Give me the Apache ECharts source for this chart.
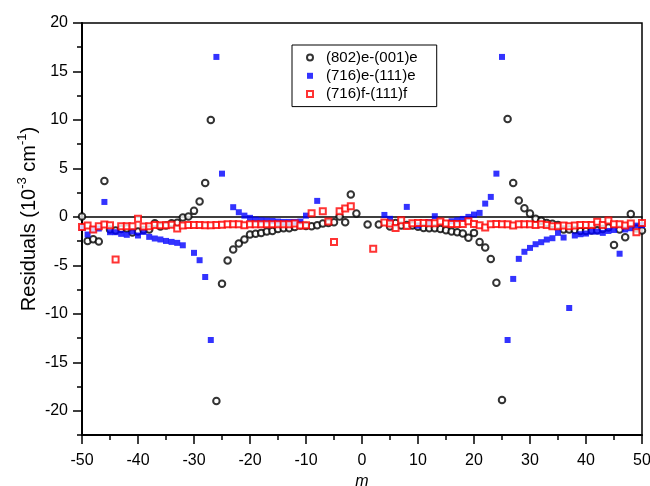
<!DOCTYPE html>
<html>
<head>
<meta charset="utf-8">
<script src="https://cdn.jsdelivr.net/npm/echarts@6/dist/echarts.min.js"></script>
<style>
  html, body { margin: 0; padding: 0; background: #fff; }
  #chart { width: 650px; height: 486px; }
</style>
</head>
<body>
<div id="chart"></div>
<script>
const seriesNames = ['(802)e-(001)e', '(716)e-(111)e', '(716)f-(111)f'];

// (802)e-(001)e, open circles
const mBlack = [-50, -49, -48, -47, -46, -45, -44, -43, -42, -41, -40, -39, -38, -37, -36, -35, -34, -33, -32, -31,
  -30, -29, -28, -27, -26, -25, -24, -23, -22, -21, -20, -19, -18, -17, -16, -15, -14, -13, -12, -11,
  -10, -9, -8, -7, -6, -5, -4, -3, -2, -1, 1, 3, 5, 6, 7, 8, 9, 10, 11, 12,
  13, 14, 15, 16, 17, 18, 19, 20, 21, 22, 23, 24, 25, 26, 27, 28, 29, 30, 31, 32,
  33, 34, 35, 36, 37, 38, 39, 40, 41, 42, 43, 44, 45, 46, 47, 48, 49, 50];
const vBlack = [0.05, -2.5, -2.3, -2.55, 3.7, -1.3, -1.4, -1.25, -1.2, -1.6, -1.5, -1.35, -1.3, -0.65, -1.0, -0.9, -0.65, -0.6, -0.07, 0.05,
  0.62, 1.58, 3.5, 10.0, -19.0, -6.9, -4.5, -3.37, -2.75, -2.34, -1.82, -1.75, -1.65, -1.5, -1.45, -1.24, -1.17, -1.17, -1.05, -0.9,
  -0.95, -0.97, -0.87, -0.69, -0.62, -0.55, 0.05, -0.55, 2.3, 0.34, -0.78, -0.78, -1.0, -0.62, -0.9, -0.85, -0.9, -1.03, -1.14, -1.17,
  -1.17, -1.24, -1.38, -1.5, -1.58, -1.72, -2.15, -1.65, -2.6, -3.15, -4.35, -6.8, -18.9, 10.1, 3.5, 1.7, 0.89, 0.34, -0.2, -0.4,
  -0.62, -0.7, -0.85, -1.3, -1.3, -1.35, -1.45, -1.45, -1.4, -1.38, -1.25, -1.1, -2.9, -1.3, -2.1, 0.3, -1.2, -1.4];

// (716)e-(111)e, filled blue squares
const mBlue = [-50, -49, -48, -47, -46, -45, -44, -43, -42, -41, -40, -39, -38, -37, -36, -35, -34, -33, -32, -30,
  -29, -28, -27, -26, -25, -23, -22, -21, -20, -19, -18, -17, -16, -15, -14, -13, -12, -11, -10, -8,
  4, 5, 8, 10, 12, 13, 16, 17, 18, 19, 20, 21, 22, 23, 24, 25, 26, 27, 28, 29,
  30, 31, 32, 33, 34, 35, 36, 37, 38, 39, 40, 41, 42, 43, 44, 45, 46, 47, 48, 49, 50];
const vBlue = [-1.1, -1.82, -1.3, -1.2, 1.54, -1.58, -1.58, -1.75, -1.85, -1.5, -1.92, -1.55, -2.06, -2.23, -2.33, -2.48, -2.58, -2.68, -2.93, -3.71,
  -4.47, -6.2, -12.7, 16.5, 4.46, 1.0, 0.48, 0.13, -0.1, -0.28, -0.35, -0.38, -0.42, -0.48, -0.52, -0.52, -0.52, -0.48, 0.13, 1.65,
  0.2, -0.2, 1.03, -0.9, -0.55, 0.07, -0.45, -0.35, -0.21, 0.0, 0.24, 0.41, 1.37, 2.06, 4.46, 16.5, -12.7, -6.4, -4.33, -3.6,
  -3.2, -2.82, -2.61, -2.34, -2.2, -1.65, -2.13, -9.4, -1.92, -1.79, -1.72, -1.52, -1.52, -1.65, -1.45, -1.35, -3.8, -1.3, -1.17, -0.9, -0.85];

// (716)f-(111)f, open red squares
const mRed = [-50, -49, -48, -47, -46, -45, -44, -43, -42, -41, -40, -39, -38, -37, -36, -35, -34, -33, -32, -31,
  -30, -29, -28, -27, -26, -25, -24, -23, -22, -21, -20, -19, -18, -17, -16, -15, -14, -13, -12, -11,
  -10, -9, -7, -6, -5, -4, -3, -2, 2, 4, 5, 6, 7, 8, 9, 10, 11, 12, 13, 14,
  15, 16, 17, 18, 19, 20, 21, 22, 23, 24, 25, 26, 27, 28, 29, 30, 31, 32, 33, 34,
  35, 36, 37, 38, 39, 40, 41, 42, 43, 44, 45, 46, 47, 48, 49, 50];
const vRed = [-1.05, -0.9, -1.3, -0.97, -0.79, -0.86, -4.4, -0.97, -0.97, -0.97, -0.18, -1.0, -0.97, -0.83, -0.86, -0.86, -0.8, -1.2, -0.9, -0.83,
  -0.83, -0.83, -0.86, -0.86, -0.83, -0.8, -0.76, -0.76, -0.76, -0.86, -0.76, -0.76, -0.76, -0.76, -0.76, -0.76, -0.76, -0.76, -0.69, -0.9,
  -0.86, 0.38, 0.58, -0.48, -2.6, 0.58, 0.86, 1.1, -3.3, -0.58, -0.68, -1.14, -0.36, -0.93, -0.66, -0.62, -0.62, -0.66, -0.66, -0.48,
  -0.69, -0.73, -0.73, -0.73, -0.45, -0.73, -0.86, -1.1, -0.76, -0.74, -0.76, -0.76, -0.9, -0.76, -0.76, -0.76, -0.83, -0.76, -0.83, -0.97,
  -0.97, -0.9, -0.97, -0.9, -0.83, -0.83, -0.83, -0.5, -0.83, -0.38, -0.76, -0.76, -0.9, -0.69, -1.58, -0.62];

const font = 'Liberation Sans, Arial, Helvetica, sans-serif';

function pairs(ms, vs) {
  return ms.map((m, i) => [m, vs[i]]);
}

const chart = echarts.init(document.getElementById('chart'));

const option = {
  animation: false,
  backgroundColor: '#fff',
  textStyle: { fontFamily: font, color: '#000' },
  grid: {
    left: 82, right: 8, top: 23, bottom: 51,
    outerBoundsMode: 'none', containLabel: false,
    show: true, borderColor: '#000', borderWidth: 1.5, backgroundColor: 'transparent'
  },
  legend: {
    data: seriesNames,
    orient: 'vertical',
    left: 292, top: 45,
    padding: [5, 19, 5, 14],
    itemWidth: 6, itemHeight: 6, itemGap: 3.3,
    borderColor: '#000', borderWidth: 1,
    textStyle: { fontSize: 15, color: '#000', fontFamily: font, padding: [0, 0, 0, 8] }
  },
  xAxis: [
    {
      type: 'value', min: -50, max: 50, interval: 10, position: 'bottom',
      name: 'm', nameLocation: 'middle', nameGap: 38,
      nameTextStyle: { fontSize: 16, fontStyle: 'italic', color: '#000', fontFamily: font },
      axisLine: { onZero: false, lineStyle: { color: '#000', width: 2 } },
      axisTick: { length: 9, lineStyle: { color: '#000', width: 1.5 } },
      minorTick: { show: true, splitNumber: 2, length: 5, lineStyle: { color: '#000', width: 1.5 } },
      splitLine: { show: false },
      axisLabel: { fontSize: 16, color: '#000', margin: 18, fontFamily: font }
    },
    {
      // zero line
      type: 'value', min: -50, max: 50, position: 'top',
      axisLine: { onZero: true, lineStyle: { color: '#000', width: 1.5 } },
      axisTick: { show: false }, axisLabel: { show: false }, splitLine: { show: false }
    }
  ],
  yAxis: [
    {
      type: 'value', min: -22.5, max: 20, splitNumber: 8, position: 'left',
      name: 'Residuals (10{sup|-3} cm{sup|-1})', nameLocation: 'middle', nameGap: 40,
      nameMoveOverlap: false,
      nameTextStyle: {
        fontSize: 20, color: '#000', fontFamily: font, lineHeight: 26, padding: [0, 0, 0, 20],
        rich: { sup: { fontSize: 13, verticalAlign: 'top', lineHeight: 26, fontFamily: font, color: '#000' } }
      },
      axisLine: { show: true, onZero: false, lineStyle: { color: '#000', width: 2 } },
      axisTick: { length: 9, lineStyle: { color: '#000', width: 1.5 } },
      splitLine: { show: false },
      axisLabel: { fontSize: 16, color: '#000', margin: 14, showMinLabel: false, fontFamily: font }
    },
    {
      // minor ticks every 2.5
      type: 'value', min: -22.5, max: 20, interval: 2.5, position: 'left',
      axisLine: { show: false, onZero: false },
      axisTick: { show: true, length: 5, lineStyle: { color: '#000', width: 1.5 } },
      axisLabel: { show: false }, splitLine: { show: false }
    }
  ],
  series: [
    {
      name: seriesNames[0], type: 'scatter', data: pairs(mBlack, vBlack),
      symbol: 'emptyCircle', symbolSize: 6.5,
      itemStyle: { color: '#000', borderColor: '#000', borderWidth: 0.9 }
    },
    {
      name: seriesNames[1], type: 'scatter', data: pairs(mBlue, vBlue),
      symbol: 'rect', symbolSize: 6,
      itemStyle: { color: '#0000ff' }
    },
    {
      name: seriesNames[2], type: 'scatter', data: pairs(mRed, vRed),
      symbol: 'emptyRect', symbolSize: 6,
      itemStyle: { color: '#ff0000', borderColor: '#ff0000', borderWidth: 1 }
    }
  ]
};

chart.setOption(option);
</script>
</body>
</html>
